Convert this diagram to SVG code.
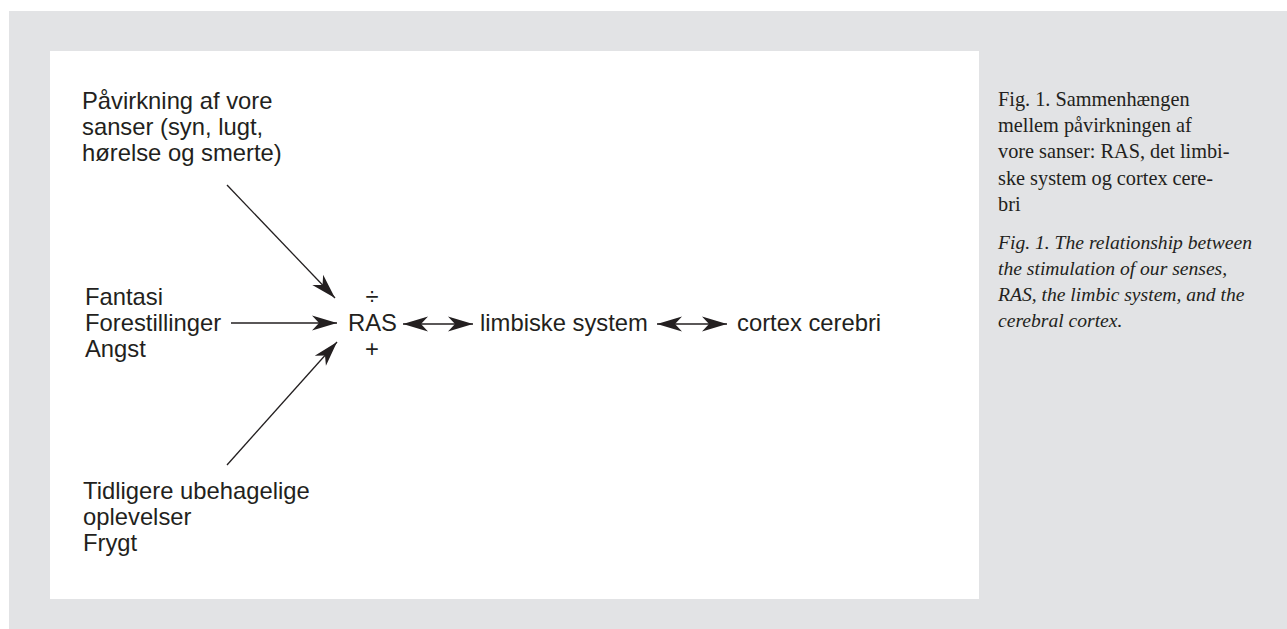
<svg xmlns="http://www.w3.org/2000/svg" width="1287" height="629" viewBox="0 0 1287 629">
  <style>
    .t { font-family: "Liberation Sans", Arial, sans-serif; font-size: 23.8px; fill: #231f20; }
    .c { font-family: "Liberation Serif", "Times New Roman", serif; font-size: 20.3px; fill: #231f20; }
    .ci { font-family: "Liberation Serif", "Times New Roman", serif; font-size: 19.6px; font-style: italic; fill: #231f20; }
    .ln { stroke: #231f20; stroke-width: 1.3; fill: none; }
  </style>
  <defs>
    <marker id="ah" viewBox="-26 -8 27 16" refX="0" refY="0" markerWidth="27" markerHeight="16" markerUnits="userSpaceOnUse" orient="auto-start-reverse">
      <path d="M0,0 L-25,-7.5 L-18,0 L-25,7.5 Z" fill="#231f20"/>
    </marker>
  </defs>
  <rect x="0" y="0" width="1287" height="629" fill="#ffffff"/>
  <rect x="9" y="11" width="1278" height="618" fill="#e2e3e5"/>
  <rect x="50" y="51" width="929" height="548" fill="#ffffff"/>

  <g id="senses">
    <text class="t" x="82" y="109">Påvirkning af vore</text>
    <text class="t" x="82" y="135">sanser (syn, lugt,</text>
    <text class="t" x="82" y="161">hørelse og smerte)</text>
  </g>
  <g id="fantasy">
    <text class="t" x="85" y="305">Fantasi</text>
    <text class="t" x="85" y="331">Forestillinger</text>
    <text class="t" x="85" y="357">Angst</text>
  </g>
  <g id="past">
    <text class="t" x="83" y="499">Tidligere ubehagelige</text>
    <text class="t" x="83" y="525">oplevelser</text>
    <text class="t" x="83" y="551">Frygt</text>
  </g>
  <g id="ras">
    <text class="t" x="372" y="305" text-anchor="middle">÷</text>
    <text class="t" x="348" y="331">RAS</text>
    <text class="t" x="372" y="357" text-anchor="middle">+</text>
  </g>
  <g id="limbic">
    <text class="t" x="480" y="331">limbiske system</text>
  </g>
  <g id="cortex">
    <text class="t" x="737" y="331">cortex cerebri</text>
  </g>

  <g id="connectors">
    <line class="ln" x1="227" y1="185" x2="335" y2="298" marker-end="url(#ah)"/>
    <line class="ln" x1="231" y1="323" x2="337" y2="323" marker-end="url(#ah)"/>
    <line class="ln" x1="227" y1="465" x2="337" y2="342" marker-end="url(#ah)"/>
    <line class="ln" x1="403" y1="324" x2="473" y2="324" marker-start="url(#ah)" marker-end="url(#ah)"/>
    <line class="ln" x1="657" y1="324" x2="727" y2="324" marker-start="url(#ah)" marker-end="url(#ah)"/>
  </g>

  <g id="caption">
    <text class="c" x="998" y="106">Fig. 1. Sammenhængen</text>
    <text class="c" x="998" y="132">mellem påvirkningen af</text>
    <text class="c" x="998" y="158">vore sanser: RAS, det limbi-</text>
    <text class="c" x="998" y="185">ske system og cortex cere-</text>
    <text class="c" x="998" y="211">bri</text>
    <text class="ci" x="998" y="249">Fig. 1. The relationship between</text>
    <text class="ci" x="998" y="275">the stimulation of our senses,</text>
    <text class="ci" x="998" y="301">RAS, the limbic system, and the</text>
    <text class="ci" x="998" y="327">cerebral cortex.</text>
  </g>
</svg>
